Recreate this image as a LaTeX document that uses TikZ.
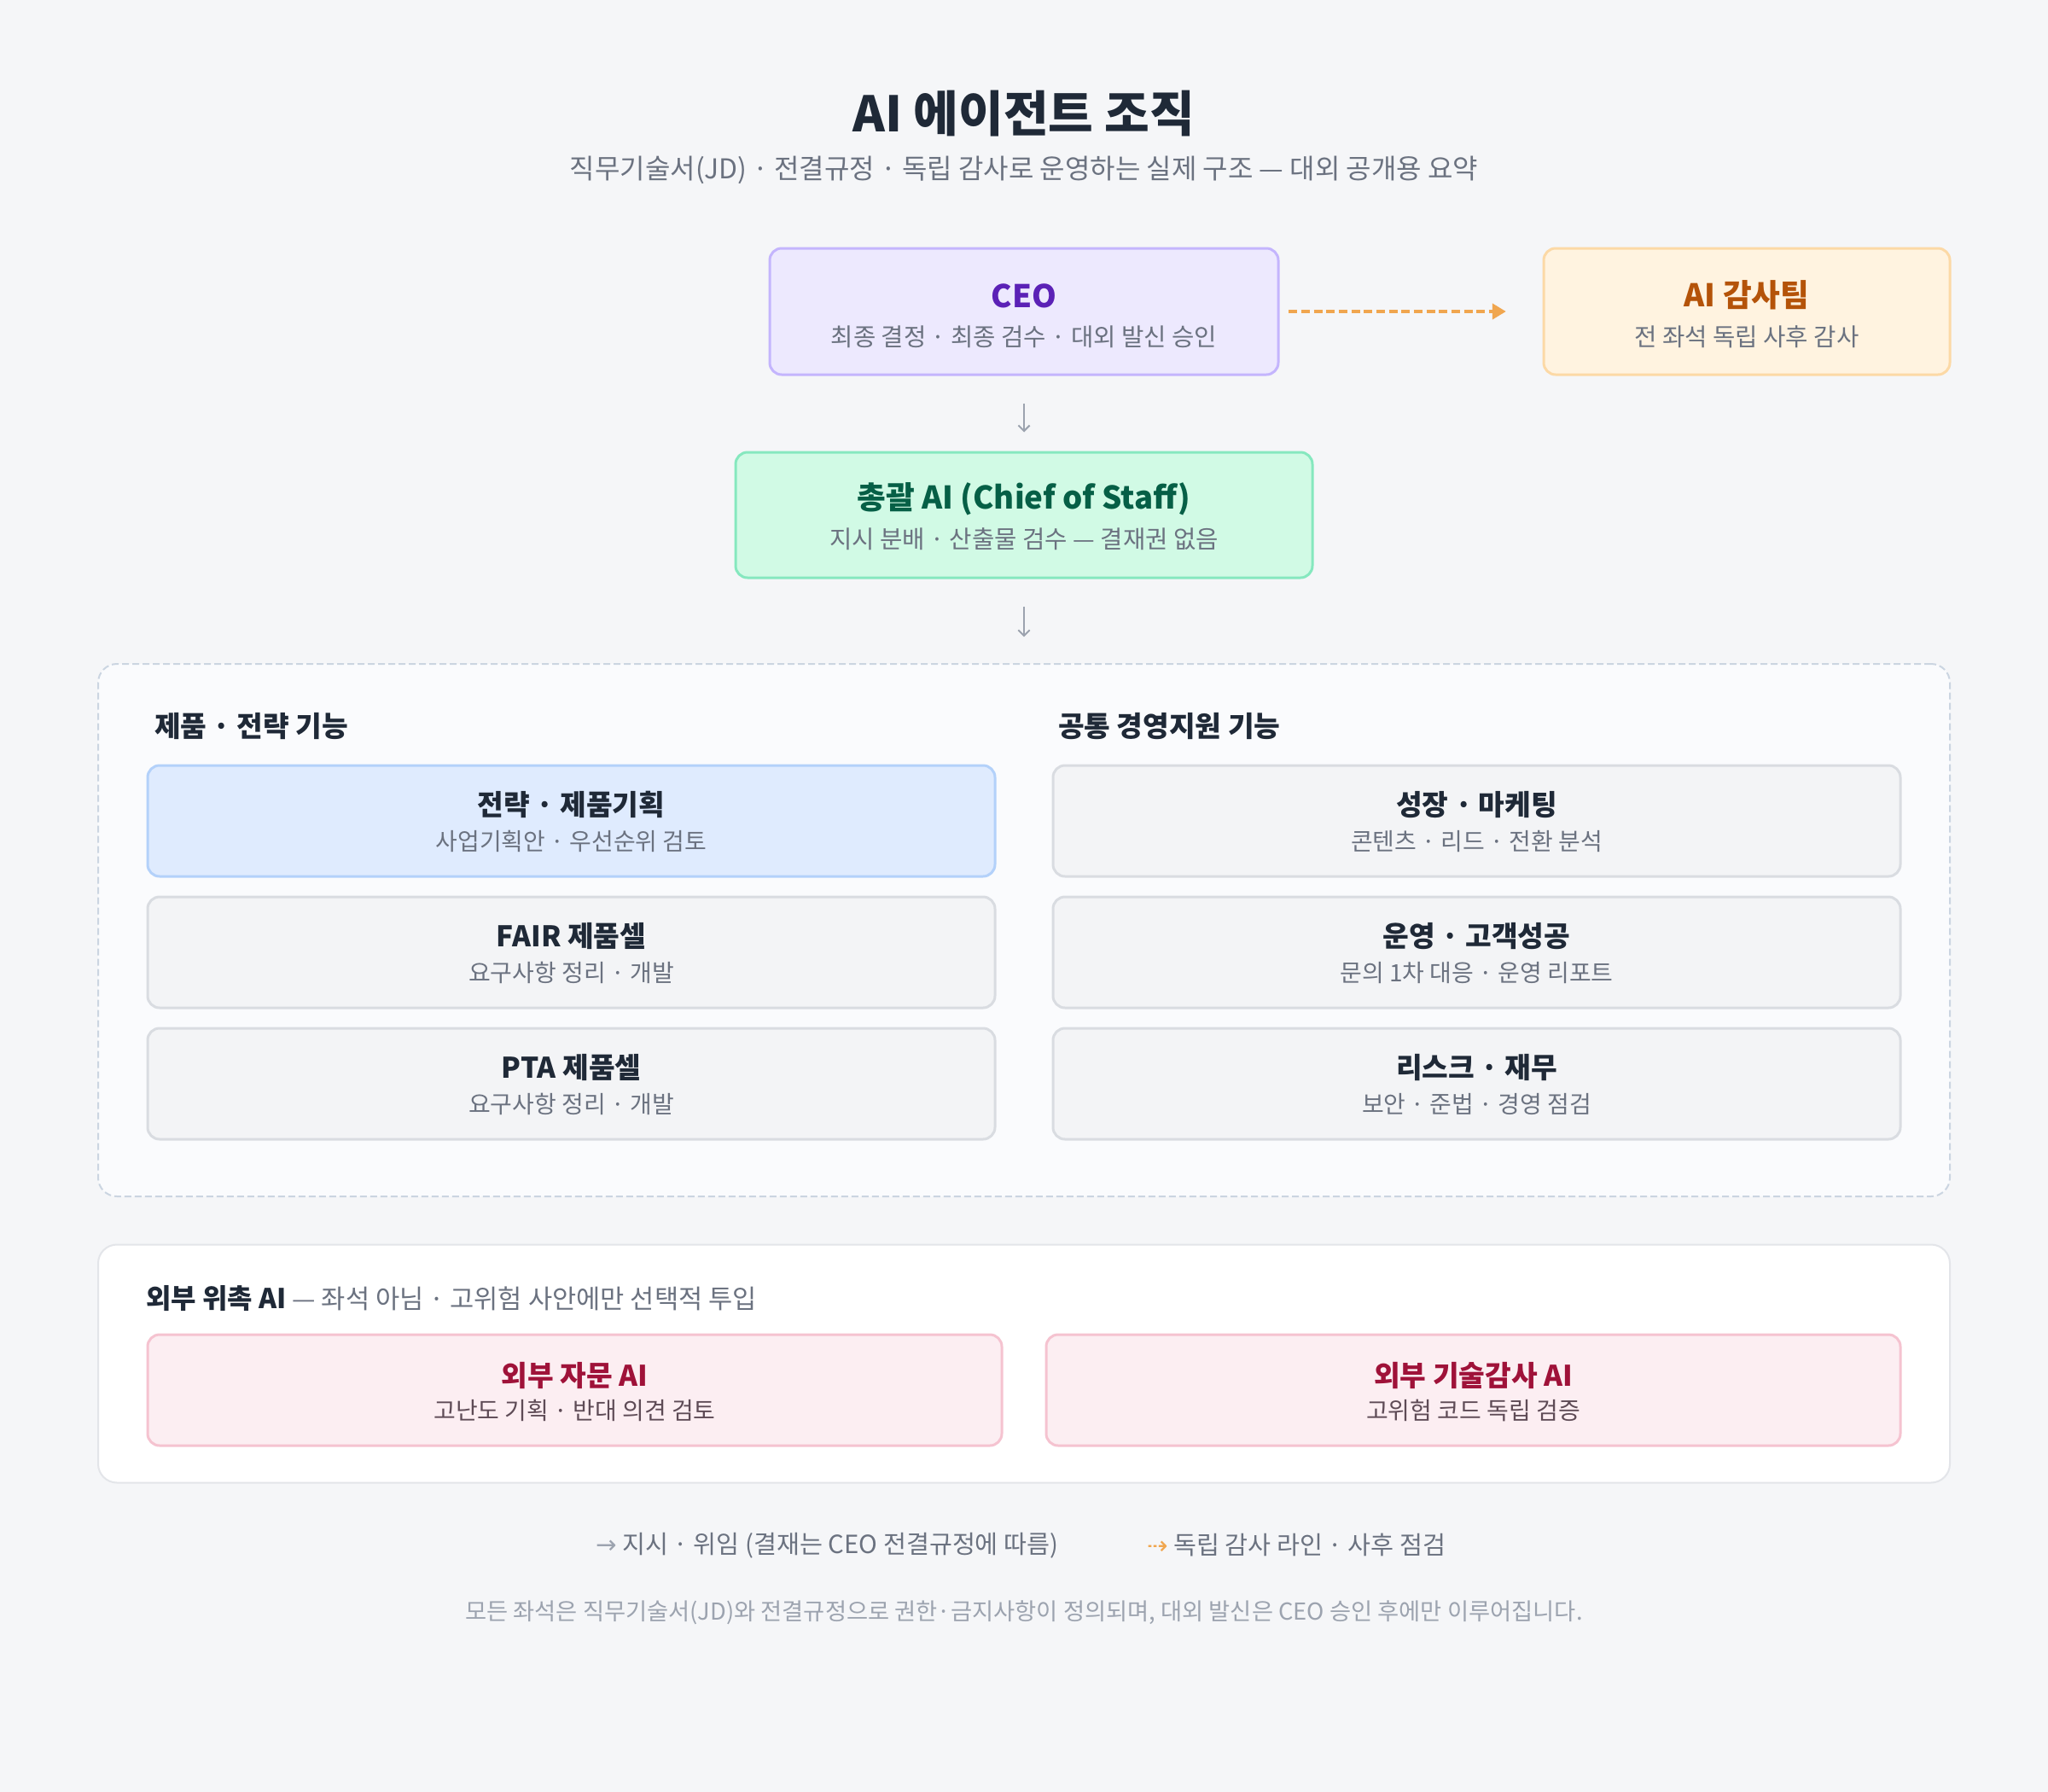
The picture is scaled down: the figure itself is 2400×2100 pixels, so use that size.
\documentclass[tikz,border=0pt]{standalone}
\usepackage{fontspec}
\setmainfont{Noto Sans CJK KR}
\newfontfamily\symfont{DejaVu Sans}
\usetikzlibrary{arrows.meta}
\definecolor{bg}{HTML}{F5F6F8}
\definecolor{dark}{HTML}{1F2937}
\definecolor{subgray}{HTML}{6B7280}
\definecolor{lightgray}{HTML}{9CA3AF}
\definecolor{ceoFill}{HTML}{EDE9FE}
\definecolor{ceoDraw}{HTML}{C4B5FD}
\definecolor{ceoText}{HTML}{5B21B6}
\definecolor{audFill}{HTML}{FFF3E0}
\definecolor{audDraw}{HTML}{FCD9A6}
\definecolor{audText}{HTML}{B45309}
\definecolor{cosFill}{HTML}{D1FAE5}
\definecolor{cosDraw}{HTML}{86E8BF}
\definecolor{cosText}{HTML}{065F46}
\definecolor{arrowGray}{HTML}{9CA3AF}
\definecolor{orangeLine}{HTML}{F0A64F}
\definecolor{contFill}{HTML}{FAFBFD}
\definecolor{contDraw}{HTML}{CBD5E1}
\definecolor{blueFill}{HTML}{DFEBFE}
\definecolor{blueDraw}{HTML}{B3D1FA}
\definecolor{grayFill}{HTML}{F3F4F6}
\definecolor{grayDraw}{HTML}{D9DCE1}
\definecolor{extDraw}{HTML}{E3E5E9}
\definecolor{pinkFill}{HTML}{FCEEF2}
\definecolor{pinkDraw}{HTML}{F5C3D0}
\definecolor{pinkText}{HTML}{9F1239}
\definecolor{pinkSub}{HTML}{5E4B56}
\begin{document}
\begin{tikzpicture}[x=0.75pt,y=-0.75pt,
  sz/.style 2 args={minimum width=#1*0.75pt, minimum height=#2*0.75pt},
  box/.style={draw, line width=2.25pt, rounded corners=10.5pt, inner sep=0pt},
  lbl/.style={inner sep=0pt, outer sep=0pt},
  maintitle/.style={lbl, text=dark, font=\fontsize{43}{46}\selectfont\bfseries},
  subtitle/.style={lbl, text=subgray, font=\fontsize{24}{27}\selectfont},
  btitle/.style={lbl, font=\fontsize{27.5}{30}\selectfont\bfseries},
  bsub/.style={lbl, text=subgray, font=\fontsize{21.5}{24}\selectfont},
  ititle/.style={lbl, text=dark, font=\fontsize{25}{28}\selectfont\bfseries},
  isub/.style={lbl, text=subgray, font=\fontsize{21}{24}\selectfont},
  header/.style={lbl, anchor=west, text=dark, font=\fontsize{25}{28}\selectfont\bfseries},
  graybox/.style={box, sz={993}{130}, fill=grayFill, draw=grayDraw},
  pinkbox/.style={box, sz={1001}{130}, fill=pinkFill, draw=pinkDraw},
  garrow/.style={draw=arrowGray, line width=1.5pt, -{Straight Barb[length=5pt,width=10pt]}},
  oarrow/.style={draw=orangeLine, line width=3pt, dash pattern=on 7.5pt off 3.5pt, -{Triangle[length=12pt,width=13.5pt]}}
]
\useasboundingbox[fill=bg] (0,0) rectangle (2400,2100);

% title
\node[maintitle] (title) at (1200,133) {AI 에이전트 조직};
\node[subtitle] (subtitle) at (1200,199) {직무기술서(JD) · 전결규정 · 독립 감사로 운영하는 실제 구조 — 대외 공개용 요약};

% CEO
\node[box, sz={596}{148}, fill=ceoFill, draw=ceoDraw] (ceo) at (1200,365) {};
\node[btitle, text=ceoText] (ceoT) at (1200,347) {CEO};
\node[bsub] (ceoS) at (1200,395) {최종 결정 · 최종 검수 · 대외 발신 승인};

% Audit
\node[box, sz={476}{148}, fill=audFill, draw=audDraw] (aud) at (2047,365) {};
\node[btitle, text=audText] (audT) at (2047,346) {AI 감사팀};
\node[bsub] (audS) at (2047,395) {전 좌석 독립 사후 감사};

% Chief of staff
\node[box, sz={676}{147}, fill=cosFill, draw=cosDraw] (cos) at (1200,603.5) {};
\node[btitle, text=cosText] (cosT) at (1200,585) {총괄 AI (Chief of Staff)};
\node[bsub] (cosS) at (1200,632) {지시 분배 · 산출물 검수 — 결재권 없음};

% functions container
\node[draw=contDraw, fill=contFill, line width=1.5pt, dash pattern=on 6pt off 3pt, rounded corners=16.5pt, sz={2170}{624}, inner sep=0pt] (cont) at (1200,1090) {};
\node[header] (hL) at (181,851) {제품 · 전략 기능};
\node[header] (hR) at (1240,851) {공통 경영지원 기능};

% left column
\node[box, sz={993}{130}, fill=blueFill, draw=blueDraw] (L1) at (669.5,962) {};
\node[ititle] (L1T) at (669.5,943) {전략 · 제품기획};
\node[isub] (L1S) at (669.5,986) {사업기획안 · 우선순위 검토};

\node[graybox] (L2) at (669.5,1116) {};
\node[ititle] (L2T) at (669.5,1097) {FAIR 제품셀};
\node[isub] (L2S) at (669.5,1140) {요구사항 정리 · 개발};

\node[graybox] (L3) at (669.5,1270) {};
\node[ititle] (L3T) at (669.5,1251) {PTA 제품셀};
\node[isub] (L3S) at (669.5,1294) {요구사항 정리 · 개발};

% right column
\node[graybox] (R1) at (1730.5,962) {};
\node[ititle] (R1T) at (1730.5,943) {성장 · 마케팅};
\node[isub] (R1S) at (1730.5,986) {콘텐츠 · 리드 · 전환 분석};

\node[graybox] (R2) at (1730.5,1116) {};
\node[ititle] (R2T) at (1730.5,1097) {운영 · 고객성공};
\node[isub] (R2S) at (1730.5,1140) {문의 1차 대응 · 운영 리포트};

\node[graybox] (R3) at (1730.5,1270) {};
\node[ititle] (R3T) at (1730.5,1251) {리스크 · 재무};
\node[isub] (R3S) at (1730.5,1294) {보안 · 준법 · 경영 점검};

% external container
\node[draw=extDraw, fill=white, line width=1.5pt, rounded corners=16.5pt, sz={2170}{279}, inner sep=0pt] (ext) at (1200,1598) {};
\node[lbl, anchor=west, text=subgray, font=\fontsize{23}{26}\selectfont] (extH) at (171,1522) {{\bfseries\color{dark}\fontsize{24}{27}\selectfont 외부 위촉 AI} — 좌석 아님 · 고위험 사안에만 선택적 투입};

\node[pinkbox] (E1) at (673.5,1629) {};
\node[btitle, text=pinkText, font=\fontsize{25}{28}\selectfont\bfseries] (E1T) at (673.5,1612) {외부 자문 AI};
\node[isub, text=pinkSub] (E1S) at (673.5,1653) {고난도 기획 · 반대 의견 검토};

\node[pinkbox] (E2) at (1726.5,1629) {};
\node[btitle, text=pinkText, font=\fontsize{25}{28}\selectfont\bfseries] (E2T) at (1726.5,1612) {외부 기술감사 AI};
\node[isub, text=pinkSub] (E2S) at (1726.5,1653) {고위험 코드 독립 검증};

% connectors
\draw[garrow, shorten <=24pt, shorten >=16.5pt] (ceo.south) -- (cos.north);
\draw[garrow, shorten <=24pt, shorten >=23pt] (cos.south) -- (cont.north);
\draw[oarrow, shorten <=8pt, shorten >=32pt] (ceo.east) -- (aud.west);

% legend
\node[lbl, anchor=west, text=subgray, font=\fontsize{22}{26}\selectfont] (leg1) at (698,1811) {{\symfont\color{arrowGray}→} 지시 · 위임 (결재는 CEO 전결규정에 따름)};
\node[lbl, anchor=west, text=subgray, font=\fontsize{22}{26}\selectfont] (leg2) at (1344,1811) {{\symfont\color{orangeLine}⇢} 독립 감사 라인 · 사후 점검};

% footer
\node[lbl, text=lightgray, font=\fontsize{20.5}{24}\selectfont] (foot) at (1200,1890) {모든 좌석은 직무기술서(JD)와 전결규정으로 권한·금지사항이 정의되며, 대외 발신은 CEO 승인 후에만 이루어집니다.};
\end{tikzpicture}
\end{document}
